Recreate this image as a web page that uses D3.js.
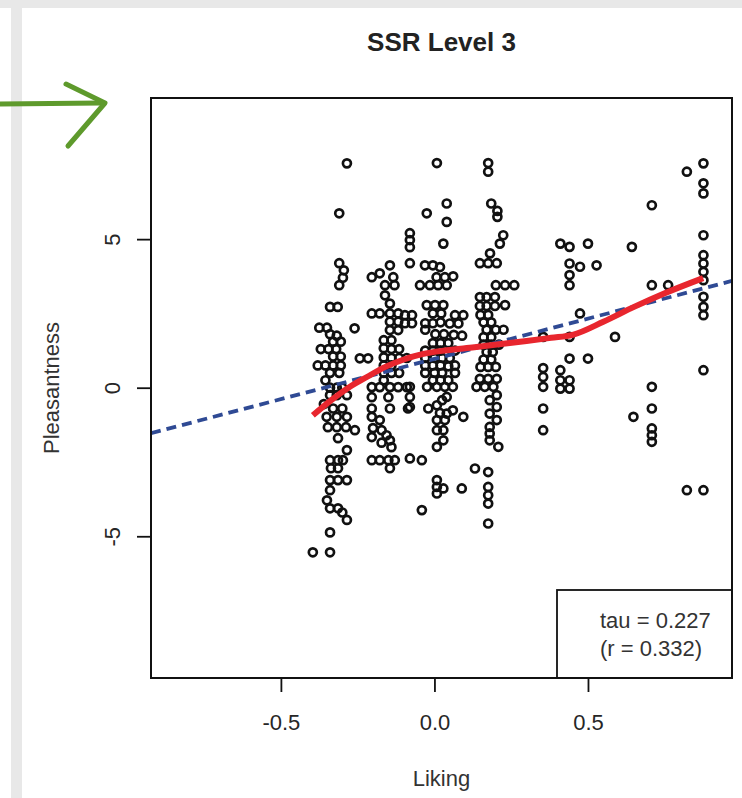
<!DOCTYPE html>
<html>
<head>
<meta charset="utf-8">
<script src="https://d3js.org/d3.v7.min.js"></script>
<style>
body, html {
  margin: 0;
  padding: 0;
  background: #fff;
  font-family: "Liberation Sans", Arial, Helvetica, sans-serif;
}
svg { display: block; }
.tick text {
  font-family: "Liberation Sans", Arial, Helvetica, sans-serif;
  font-size: 22px;
  fill: #262626;
}
.tick line {
  stroke: #111;
  stroke-width: 1.8px;
}
.pt {
  fill: none;
  stroke: #111;
  stroke-width: 2.7px;
}
.lbl {
  font-size: 22px;
  fill: #333;
}
</style>
</head>
<body>
<div id="chart"></div>
<script>

// liking (x) and pleasantness (y) per participant
var liking = [
  -0.285,-0.31,-0.31,-0.295,-0.298,-0.31,-0.34,-0.315,-0.26,-0.375,
  -0.35,-0.34,-0.318,-0.33,-0.305,-0.37,-0.345,-0.32,-0.33,-0.305,
  -0.38,-0.355,-0.33,-0.305,-0.34,-0.31,-0.355,-0.34,-0.318,-0.30,
  -0.34,-0.318,-0.285,-0.36,-0.33,-0.30,-0.351,-0.318,-0.285,-0.347,
  -0.318,-0.288,-0.259,-0.314,-0.285,-0.34,-0.314,-0.298,-0.337,-0.314,
  -0.34,-0.314,-0.285,-0.34,-0.35,-0.34,-0.314,-0.30,-0.285,-0.34,
  -0.396,-0.34,

  -0.204,-0.178,-0.145,-0.134,-0.161,-0.13,-0.161,-0.145,-0.204,-0.178,
  -0.145,-0.118,-0.145,-0.118,-0.145,-0.118,-0.243,-0.216,-0.165,-0.14,
  -0.165,-0.14,-0.115,-0.165,-0.14,-0.115,-0.09,-0.165,-0.14,-0.165,
  -0.14,-0.115,-0.165,-0.204,-0.178,-0.145,-0.118,-0.09,-0.204,-0.145,
  -0.086,-0.20,-0.172,-0.156,-0.145,-0.14,-0.204,-0.178,-0.15,-0.129,
  -0.145,-0.204,-0.178,-0.204,-0.172,-0.204,-0.15,

  0.008,0.04,-0.025,0.04,-0.08,-0.08,-0.08,0.029,-0.08,-0.031,
  -0.005,0.018,0.007,0.034,0.061,-0.047,-0.015,0.012,0.04,-0.096,
  -0.073,-0.096,-0.073,-0.025,0.002,0.029,0.067,0.094,-0.005,0.022,
  0.05,0.078,0.003,0.031,0.063,0.09,-0.03,-0.005,0.02,-0.03,
  -0.005,0.02,0.045,-0.03,-0.005,0.02,-0.03,0.0,0.025,0.05,
  -0.03,-0.005,0.02,0.045,-0.03,0.0,0.025,-0.005,0.02,0.045,
  -0.08,-0.024,0.008,0.034,0.06,-0.08,0.008,0.025,0.04,-0.02,
  0.018,0.008,0.034,0.094,0.029,0.008,-0.08,-0.041,0.008,0.008,
  0.029,0.008,0.089,-0.041,-0.08,0.04,0.06,0.008,0.029,0.067,
  0.067,0.067,

  0.175,0.175,0.185,0.205,0.205,0.224,0.213,0.181,0.148,0.175,
  0.203,0.20,0.23,0.26,0.148,0.17,0.197,0.148,0.17,0.197,
  0.23,0.15,0.175,0.16,0.185,0.17,0.2,0.225,0.16,0.185,
  0.16,0.185,0.21,0.17,0.19,0.16,0.185,0.15,0.175,0.2,
  0.148,0.175,0.203,0.137,0.164,0.192,0.203,0.18,0.203,0.18,
  0.203,0.18,0.18,0.18,0.208,0.132,0.175,0.175,0.175,0.175,
  0.175,

  0.41,0.44,0.50,0.44,0.474,0.528,0.44,0.44,0.474,0.44,
  0.354,0.588,0.44,0.50,0.354,0.354,0.354,0.354,0.354,0.41,
  0.41,0.44,0.41,0.44,0.708,0.643,0.708,0.761,0.708,0.708,
  0.648,0.708,0.708,0.708,0.876,0.822,0.876,0.876,0.876,0.876,
  0.876,0.876,0.876,0.876,0.876,0.876,0.876,0.822,0.876
];

var pleasantness = [
  7.55,5.87,4.19,3.95,3.70,3.45,2.72,2.72,2.0,2.02,
  2.02,1.80,1.75,1.55,1.55,1.30,1.30,1.30,1.05,1.05,
  0.75,0.75,0.75,0.75,0.50,0.50,0.25,0.0,0.0,0.0,
  -0.25,-0.25,-0.25,-0.55,-0.70,-0.70,-0.98,-0.98,-0.98,-1.33,
  -1.33,-1.33,-1.43,-1.70,-2.10,-2.44,-2.44,-2.44,-2.71,-2.71,
  -3.11,-3.11,-3.11,-3.45,-3.79,-4.06,-4.06,-4.20,-4.45,-4.87,
  -5.54,-5.54,

  3.72,3.85,4.12,3.72,3.45,3.45,3.11,2.83,2.50,2.50,
  2.50,2.50,2.22,2.22,1.94,1.94,0.99,0.99,1.60,1.60,
  1.33,1.30,1.30,1.02,1.00,1.00,1.00,0.75,0.75,0.50,
  0.50,0.50,0.25,0.02,0.02,0.02,0.02,0.02,-0.70,-0.70,
  -0.70,-1.36,-1.43,-1.60,-1.77,-2.00,-2.44,-2.44,-2.44,-2.44,
  -2.71,-0.98,-1.09,-1.66,-1.85,-0.32,-0.32,

  7.56,6.20,5.87,5.58,5.20,4.97,4.73,4.85,4.19,4.12,
  4.12,4.06,3.72,3.72,3.75,3.45,3.45,3.45,3.45,2.44,
  2.44,2.17,2.17,2.78,2.78,2.78,2.44,2.44,2.50,2.50,
  2.16,2.16,1.80,1.80,1.78,1.75,2.17,2.17,2.20,1.95,
  1.50,1.50,1.50,1.25,1.25,1.25,1.00,1.00,1.00,1.00,
  0.75,0.75,0.75,0.72,0.50,0.50,0.50,0.25,0.25,0.25,
  0.03,0.03,0.03,0.03,0.03,-0.65,-0.59,-0.42,-0.31,-0.70,
  -0.85,-1.09,-1.09,-0.98,-1.77,-1.99,-2.38,-2.44,-3.11,-3.34,
  -3.39,-3.56,-3.39,-4.12,-0.31,-0.87,-0.76,-1.43,-1.43,1.25,
  0.75,0.50,

  7.56,7.27,6.20,5.95,5.75,5.13,4.85,4.52,4.19,4.19,
  4.19,3.45,3.45,3.45,3.05,3.05,3.05,2.75,2.75,2.75,
  2.78,2.45,2.45,2.20,2.20,1.95,1.95,1.95,1.70,1.70,
  1.45,1.45,1.45,1.20,1.20,0.95,0.95,0.70,0.70,0.70,
  0.30,0.30,0.30,0.03,0.03,0.03,-0.25,-0.42,-0.65,-0.87,
  -1.09,-1.32,-1.54,-1.77,-1.99,-2.72,-2.84,-3.34,-3.62,-3.90,
  -4.57,

  4.85,4.74,4.85,4.18,4.07,4.12,3.79,3.45,2.50,1.71,
  1.71,1.71,0.98,0.98,0.66,0.36,0.03,-0.70,-1.43,0.59,
  0.25,0.25,-0.03,-0.03,6.14,4.74,3.45,3.45,0.03,-0.70,
  -0.98,-1.37,-1.60,-1.82,7.55,7.27,6.88,6.54,5.13,4.46,
  4.18,3.90,3.62,3.06,2.72,2.44,0.59,-3.45,-3.45
];

// loess smooth
var loessLiking = [-0.396,-0.34,-0.28,-0.22,-0.16,-0.10,-0.04,0.04,0.13,0.21,0.30,0.38,0.45,0.55,0.65,0.75,0.875];
var loessFit    = [-0.93,-0.45,0.0,0.36,0.70,0.95,1.13,1.26,1.36,1.46,1.57,1.68,1.78,2.22,2.72,3.18,3.69];

// linear fit
var fitIntercept = 0.97;
var fitSlope = 2.71;

var xTicks = [-0.5, 0, 0.5];
var yTicks = [-5, 0, 5];
var xDomain = [-0.923, 0.969];
var yDomain = [-9.77, 9.75];

var statLines = ['tau = 0.227', '(r = 0.332)'];

var width = 742,
    height = 798;
var margin = {top: 98, right: 10, bottom: 120, left: 151};
var plotW = width - margin.left - margin.right,
    plotH = height - margin.top - margin.bottom;

var svg = d3.select('#chart').append('svg')
  .attr('width', width)
  .attr('height', height);

// grey frame of the page
svg.append('rect').attr('x', 0).attr('y', 0).attr('width', width).attr('height', 8).attr('fill', '#e8e8e8');
svg.append('rect').attr('x', 11).attr('y', 0).attr('width', 11).attr('height', height).attr('fill', '#e8e8e8');

var x = d3.scaleLinear().domain(xDomain).range([0, plotW]);
var y = d3.scaleLinear().domain(yDomain).range([plotH, 0]);

var g = svg.append('g')
  .attr('transform', 'translate(' + margin.left + ',' + margin.top + ')');

g.append('clipPath').attr('id', 'plotclip')
  .append('rect').attr('width', plotW).attr('height', plotH);

// axes
var xAxis = g.append('g')
  .attr('transform', 'translate(0,' + plotH + ')')
  .call(d3.axisBottom(x).tickValues(xTicks).tickSize(14).tickFormat(function(d) { return d.toFixed(1); }));
xAxis.select('.domain').remove();
xAxis.selectAll('text').attr('y', 44).attr('dy', '0.35em');

var yAxis = g.append('g')
  .call(d3.axisLeft(y).tickValues(yTicks).tickSize(14).tickFormat(function(d) { return String(d); }));
yAxis.select('.domain').remove();
yAxis.selectAll('text')
  .attr('x', 0)
  .attr('y', 0)
  .attr('dy', '0.35em')
  .attr('text-anchor', 'middle')
  .attr('transform', 'translate(-39,0) rotate(-90)');

// points
g.append('g').selectAll('circle')
  .data(d3.range(liking.length))
  .join('circle')
  .attr('class', 'pt')
  .attr('cx', function(i) { return x(liking[i]); })
  .attr('cy', function(i) { return y(pleasantness[i]); })
  .attr('r', 4);

// regression line
var fitLine = d3.line()
  .x(function(d) { return x(d); })
  .y(function(d) { return y(fitIntercept + fitSlope * d); });
g.append('path')
  .datum(xDomain)
  .attr('clip-path', 'url(#plotclip)')
  .attr('d', fitLine)
  .attr('fill', 'none')
  .attr('stroke', '#2f4a94')
  .attr('stroke-width', 3.8)
  .attr('stroke-dasharray', '10,6');

// loess line
var smooth = d3.line()
  .curve(d3.curveMonotoneX)
  .x(function(i) { return x(loessLiking[i]); })
  .y(function(i) { return y(loessFit[i]); });
g.append('path')
  .datum(d3.range(loessLiking.length))
  .attr('d', smooth)
  .attr('fill', 'none')
  .attr('stroke', '#e8262e')
  .attr('stroke-width', 6)
  .attr('stroke-linejoin', 'round');

// legend with the correlations
var legW = 175, legH = 88;
var leg = g.append('g')
  .attr('transform', 'translate(' + (plotW - legW) + ',' + (plotH - legH) + ')');
leg.append('rect')
  .attr('width', legW)
  .attr('height', legH)
  .attr('fill', '#fff')
  .attr('stroke', '#111')
  .attr('stroke-width', 1.8);
leg.selectAll('text')
  .data(statLines)
  .join('text')
  .attr('class', 'lbl')
  .attr('x', 43)
  .attr('y', function(d, i) { return 30 + i * 28; })
  .attr('dy', '0.35em')
  .text(function(d) { return d; });

// plot box
g.append('rect')
  .attr('width', plotW)
  .attr('height', plotH)
  .attr('fill', 'none')
  .attr('stroke', '#111')
  .attr('stroke-width', 2);

// titles
svg.append('text')
  .attr('x', margin.left + plotW / 2)
  .attr('y', 42)
  .attr('dy', '0.35em')
  .attr('text-anchor', 'middle')
  .attr('font-weight', 'bold')
  .attr('font-size', 26)
  .attr('fill', '#222')
  .text('SSR Level 3');

svg.append('text')
  .attr('class', 'lbl')
  .attr('x', margin.left + plotW / 2)
  .attr('y', 778)
  .attr('dy', '0.35em')
  .attr('text-anchor', 'middle')
  .text('Liking');

svg.append('text')
  .attr('class', 'lbl')
  .attr('transform', 'translate(51,' + (margin.top + plotH / 2) + ') rotate(-90)')
  .attr('dy', '0.35em')
  .attr('text-anchor', 'middle')
  .text('Pleasantness');

// green pointer arrow
var arrow = svg.append('g')
  .attr('fill', 'none')
  .attr('stroke', '#5e9a2c')
  .attr('stroke-width', 5)
  .attr('stroke-linecap', 'round')
  .attr('stroke-linejoin', 'round');
arrow.append('path').attr('d', 'M0,104 L101,103');
arrow.append('path').attr('d', 'M66,84 L105,103 L68,146');

</script>
</body>
</html>
